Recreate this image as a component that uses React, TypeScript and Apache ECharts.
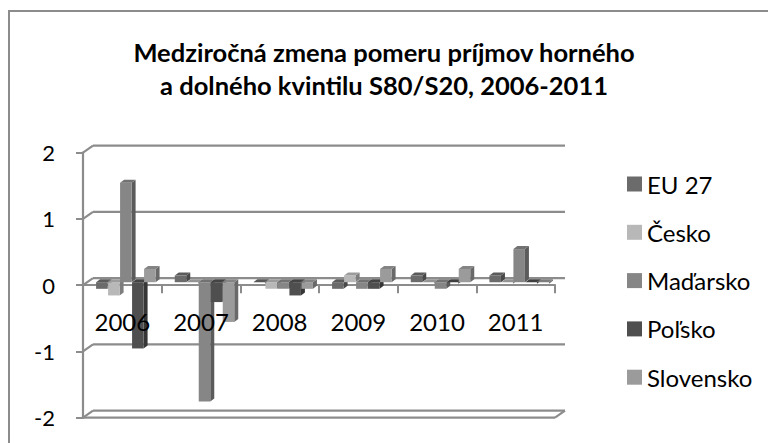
import React, { useEffect, useRef } from "react";
import * as echarts from "echarts";

// Categories and values (year-on-year change of S80/S20)
const years = ["2006", "2007", "2008", "2009", "2010", "2011"];
const seriesNames = ["EU 27", "Česko", "Maďarsko", "Poľsko", "Slovensko"];
const eu27 = [-0.1, 0.1, 0.0, -0.1, 0.1, 0.1];
const cesko = [-0.2, 0.0, -0.1, 0.1, 0.0, 0.0];
const madarsko = [1.5, -1.8, -0.1, -0.1, -0.1, 0.5];
const polsko = [-1.0, -0.3, -0.2, -0.1, 0.0, 0.0];
const slovensko = [0.2, -0.6, -0.1, 0.2, 0.2, 0.0];
const yTicks = [2, 1, 0, -1, -2];

const seriesValues = [eu27, cesko, madarsko, polsko, slovensko];
const seriesColors = ["#6b6b6b", "#b8b8b8", "#868686", "#4f4f4f", "#9b9b9b"];

const FONT = "Lato, 'Open Sans', sans-serif";
const GRID_COLOR = "#8c8c8c";

// 3D look: back wall offset, bar placement in depth and bar thickness
const WALL_DX = 10;
const WALL_DY = -7;
const BAR_OX = 3.5;
const BAR_OY = -3;
const BAR_DX = 4;
const BAR_DY = -3;
const YEAR_LABEL_OFFSET = 36;

function shade(hex: string, f: number): string {
  const n = parseInt(hex.slice(1), 16);
  const ch = (v: number) => Math.max(0, Math.min(255, Math.round(v * f)));
  const r = ch((n >> 16) & 255);
  const g = ch((n >> 8) & 255);
  const b = ch(n & 255);
  return "rgb(" + r + "," + g + "," + b + ")";
}

function barRenderer(seriesIndex: number) {
  const color = seriesColors[seriesIndex];
  return (params: any, api: any) => {
    const cat = api.value(0);
    const val = api.value(1);
    const base = api.coord([cat, 0]);
    const tip = api.coord([cat, val]);
    const band = api.size([1, 0])[0];
    const stride = band * 0.1525;
    const fw = stride * 0.96;
    const xl = base[0] + (seriesIndex - 2) * stride - fw / 2 + BAR_OX;
    const top = Math.min(base[1], tip[1]) + BAR_OY;
    const bottom = Math.max(base[1], tip[1]) + BAR_OY;
    const xr = xl + fw;
    const solid = bottom - top > 0.5;
    const children: any[] = [];
    if (solid) {
      children.push({
        type: "polygon",
        shape: { points: [[xr, top], [xr + BAR_DX, top + BAR_DY], [xr + BAR_DX, bottom + BAR_DY], [xr, bottom]] },
        style: { fill: shade(color, 0.68) },
      });
      children.push({
        type: "rect",
        shape: { x: xl, y: top, width: fw, height: bottom - top },
        style: { fill: color },
      });
    } else {
      children.push({
        type: "polygon",
        shape: { points: [[xr, top], [xr + BAR_DX, top + BAR_DY], [xr + BAR_DX, top + BAR_DY + 1.5], [xr, top + 1.5]] },
        style: { fill: shade(color, 0.68) },
      });
    }
    children.push({
      type: "polygon",
      shape: { points: [[xl, top], [xr, top], [xr + BAR_DX, top + BAR_DY], [xl + BAR_DX, top + BAR_DY]] },
      style: { fill: shade(color, solid ? 0.85 : 0.8) },
    });
    return { type: "group", children };
  };
}

// Back wall gridlines, wall edges and floor
function frameRenderer(params: any, api: any) {
  const cs = params.coordSys;
  const v = api.value(1);
  const y = api.coord([0, v])[1];
  const x0 = cs.x;
  const x1 = cs.x + cs.width;
  const style = { stroke: GRID_COLOR, lineWidth: 2.2 };
  const children: any[] = [
    { type: "line", shape: { x1: x0, y1: y, x2: x0 + WALL_DX, y2: y + WALL_DY }, style },
    { type: "line", shape: { x1: x0 + WALL_DX, y1: y + WALL_DY, x2: x1 + WALL_DX, y2: y + WALL_DY }, style },
  ];
  if (v === yTicks[yTicks.length - 1]) {
    children.push({ type: "line", shape: { x1: x0, y1: y, x2: x1, y2: y }, style });
    children.push({ type: "line", shape: { x1: x1, y1: y, x2: x1 + WALL_DX, y2: y + WALL_DY }, style });
  }
  return { type: "group", children };
}

// Year labels sit just under the zero line
function yearLabelRenderer(params: any, api: any) {
  const idx = api.value(0);
  const p = api.coord([idx, 0]);
  return {
    type: "text",
    x: p[0],
    y: p[1] + YEAR_LABEL_OFFSET,
    style: {
      text: years[idx],
      fontFamily: FONT,
      fontSize: 24,
      fill: "#000",
      align: "center",
      verticalAlign: "middle",
    },
  };
}

export default function App() {
  const ref = useRef<HTMLDivElement>(null);

  useEffect(() => {
    if (!ref.current) return;
    const chart = echarts.init(ref.current, undefined, { renderer: "svg" });

    const barSeries = seriesNames.map((name, i) => ({
      name,
      type: "custom",
      renderItem: barRenderer(i),
      data: seriesValues[i].map((v, k) => [k, v]),
      encode: { x: 0, y: 1 },
      itemStyle: { color: seriesColors[i] },
      clip: false,
      z: 5,
    }));

    chart.setOption({
      animation: false,
      backgroundColor: "#ffffff",
      title: {
        text: "Medziročná zmena pomeru príjmov horného\na dolného kvintilu S80/S20, 2006-2011",
        left: "center",
        top: 35,
        padding: 0,
        textStyle: {
          fontFamily: FONT,
          fontWeight: "bold",
          fontSize: 25.5,
          lineHeight: 33,
          color: "#000",
        },
      },
      legend: {
        data: seriesNames,
        orient: "vertical",
        left: 622,
        top: 167,
        itemWidth: 15,
        itemHeight: 15,
        itemGap: 24.3,
        icon: "rect",
        textStyle: { fontFamily: FONT, fontSize: 24, lineHeight: 24, color: "#000" },
      },
      grid: {
        left: 83,
        top: 152.7,
        width: 472,
        height: 265,
        containLabel: false,
        outerBoundsMode: "none",
      },
      xAxis: {
        type: "category",
        data: years,
        axisLine: { onZero: true, lineStyle: { color: GRID_COLOR, width: 2.2 } },
        axisTick: { show: true, length: 8, interval: 0, lineStyle: { color: GRID_COLOR, width: 2 } },
        axisLabel: { show: false },
        splitLine: { show: false },
      },
      yAxis: {
        type: "value",
        min: -2,
        max: 2,
        interval: 1,
        axisLine: { show: true, lineStyle: { color: GRID_COLOR, width: 2.2 } },
        axisTick: { show: true, length: 7, lineStyle: { color: GRID_COLOR, width: 2 } },
        axisLabel: { fontFamily: FONT, fontSize: 22, color: "#000", margin: 28 },
        splitLine: { show: false },
      },
      graphic: [
        {
          type: "rect",
          shape: { x: 9, y: 11, width: 800, height: 500 },
          style: { fill: "none", stroke: GRID_COLOR, lineWidth: 2 },
          silent: true,
        },
      ],
      series: [
        {
          name: "frame",
          type: "custom",
          renderItem: frameRenderer,
          data: yTicks.map((v) => [0, v]),
          encode: { x: 0, y: 1 },
          clip: false,
          silent: true,
          z: 1,
        },
        ...barSeries,
        {
          name: "years",
          type: "custom",
          renderItem: yearLabelRenderer,
          data: years.map((_, k) => [k, 0]),
          encode: { x: 0, y: 1 },
          clip: false,
          silent: true,
          z: 10,
        },
      ],
    });

    return () => chart.dispose();
  }, []);

  return (
    <div
      ref={ref}
      style={{ position: "fixed", left: 0, top: 0, width: 768, height: 443, background: "#fff" }}
    />
  );
}
